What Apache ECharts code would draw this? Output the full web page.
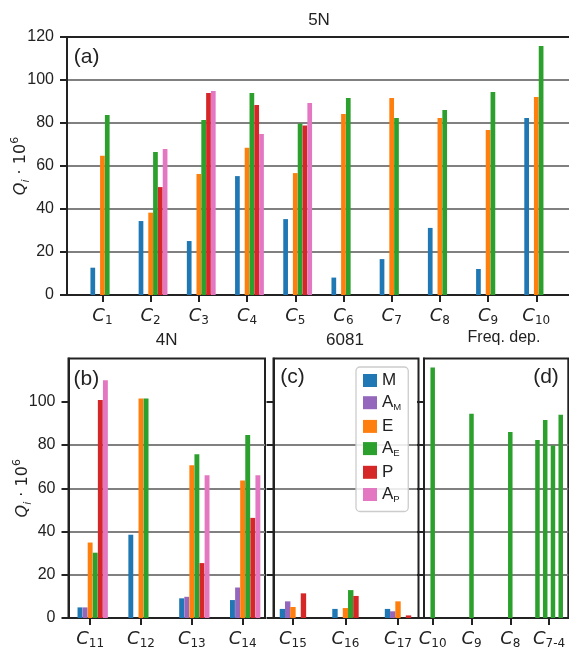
<!DOCTYPE html>
<html>
<head>
<meta charset="utf-8">
<script src="https://cdn.jsdelivr.net/npm/echarts@6.0.0/dist/echarts.min.js"></script>
<style>
  html, body { margin: 0; padding: 0; background: #fff; }
  #chart { width: 569px; height: 651px; }
</style>
</head>
<body>
<div id="chart"></div>
<script>
// panel (a) 5N, components C1..C10
const subs5N = ['1', '2', '3', '4', '5', '6', '7', '8', '9', '10']
const m5N  = [12.7, 34.4, 25.1, 55.3, 35.3, 8.1, 16.7, 31.2, 12.1, 82.3]
const e5N  = [64.8, 38.3, 56.3, 68.5, 56.7, 84.2, 91.6, 82.3, 76.7, 92.1]
const aE5N = [83.7, 66.5, 81.4, 94.0, 79.8, 91.6, 82.3, 86.0, 94.4, 115.8]
const p5N  = [null, 50.2, 94.0, 88.4, 78.8, null, null, null, null, null]
const aP5N = [null, 67.9, 94.9, 74.9, 89.3, null, null, null, null, null]

// panel (b) 4N, C11..C14
const subs4N = ['11', '12', '13', '14']
const m4N  = [4.9, 38.5, 9.1, 8.3]
const aM4N = [4.9, null, 9.8, 14.1]
const e4N  = [34.9, 101.5, 70.6, 63.6]
const aE4N = [30.2, 101.5, 75.7, 84.6]
const p4N  = [100.8, null, 25.4, 46.3]
const aP4N = [110.0, null, 66.0, 66.0]

// panel (c) 6081, C15..C17
const subs6081 = ['15', '16', '17']
const m6081  = [4.2, 4.2, 4.2]
const aM6081 = [7.7, null, 3.1]
const e6081  = [5.1, 4.6, 7.7]
const aE6081 = [null, 12.9, null]
const p6081  = [11.4, 10.2, 1.2]

// panel (d) frequency dependent, A_E only
const subsFreq = ['10', '9', '8', '7-4']
const freqGroup = [0, 1, 2, 3, 3, 3, 3]   // C10, C9, C8, C7, C6, C5, C4
const freqAE = [115.8, 94.4, 86.0, 82.3, 91.6, 79.8, 94.0]

const yTicks = [0, 20, 40, 60, 80, 100]

const colors = {
  M: '#1f77b4', A_M: '#9467bd', E: '#ff7f0e',
  A_E: '#2ca02c', P: '#d62728', A_P: '#e377c2'
}
const slots = ['M', 'A_M', 'E', 'A_E', 'P', 'A_P']
const ink = '#222'

function bars(name, vals, idx, width) {
  const off = (slots.indexOf(name) - 2) * 0.1
  const data = []
  vals.forEach((v, i) => {
    if (v != null) data.push([i + off, v])
  })
  return {
    type: 'bar', name, xAxisIndex: idx, yAxisIndex: idx,
    barWidth: width, barGap: '-100%',
    itemStyle: { color: colors[name] },
    data
  }
}

const cLabel = {
  c: { fontFamily: 'DejaVu Sans', fontStyle: 'italic', fontSize: 18, lineHeight: 22, color: ink },
  s: { fontFamily: 'DejaVu Sans', fontSize: 12, lineHeight: 12, verticalAlign: 'bottom', color: ink }
}

const axisLine = { show: true, onZero: false, lineStyle: { color: ink, width: 2 } }

function tick(vals) {
  const t = { show: true, inside: false, length: 7, lineStyle: { color: ink, width: 2 } }
  if (vals) t.customValues = vals
  return t
}

function xAxis(idx, min, max, subs) {
  const vals = subs.map((s, i) => i)
  return {
    type: 'value', gridIndex: idx, min, max,
    axisLine,
    splitLine: { show: false },
    axisTick: tick(vals),
    axisLabel: {
      customValues: vals, margin: 10, hideOverlap: false,
      formatter: v => '{c|C}{s|' + subs[Math.round(v)] + '}',
      rich: cLabel
    }
  }
}

const yName = {
  name: '{q|Q}{i|i}{t| · 10}{e|6}',
  nameLocation: 'middle', nameRotate: 90, nameGap: 35, nameMoveOverlap: false,
  nameTextStyle: {
    rich: {
      q: { fontFamily: 'DejaVu Sans', fontStyle: 'italic', fontSize: 16, lineHeight: 22, color: ink },
      i: { fontFamily: 'DejaVu Sans', fontStyle: 'italic', fontSize: 11, lineHeight: 11, verticalAlign: 'bottom', color: ink },
      t: { fontFamily: 'DejaVu Sans', fontSize: 16, lineHeight: 22, color: ink },
      e: { fontFamily: 'DejaVu Sans', fontSize: 11, lineHeight: 11, verticalAlign: 'top', color: ink }
    }
  }
}

const yLabel = { fontFamily: 'Liberation Sans', fontSize: 16, color: ink, margin: 13 }

function yAxis(idx, opts) {
  return Object.assign({
    type: 'value', gridIndex: idx, min: 0, max: 120, interval: 20,
    axisLine,
    axisTick: tick(),
    axisLabel: yLabel,
    splitLine: { showMinLine: false, showMaxLine: false, lineStyle: { color: '#808080', width: 2 } }
  }, opts)
}

const gridStyle = {
  show: true, borderColor: ink, borderWidth: 2, backgroundColor: 'transparent',
  containLabel: false, outerBoundsMode: 'none'
}

const legendNames = {
  M: '{a|M}', A_M: '{a|A}{s|M}', E: '{a|E}', A_E: '{a|A}{s|E}', P: '{a|P}', A_P: '{a|A}{s|P}'
}

const option = {
  animation: false,
  grid: [
    Object.assign({ left: 67, top: 37, width: 504, height: 258 }, gridStyle),
    Object.assign({ left: 68.5, top: 358.5, width: 196.5, height: 259.5 }, gridStyle),
    Object.assign({ left: 273.5, top: 358.5, width: 145, height: 259.5 }, gridStyle),
    Object.assign({ left: 424, top: 358.5, width: 144.3, height: 259.5 }, gridStyle)
  ],
  xAxis: [
    xAxis(0, -0.735, 9.72, subs5N),
    xAxis(1, -0.426, 3.44, subs4N),
    xAxis(2, -0.37, 2.39, subs6081),
    xAxis(3, -0.224, 3.495, subsFreq)
  ],
  yAxis: [
    yAxis(0, yName),
    yAxis(1, Object.assign({
      axisTick: tick(yTicks),
      axisLabel: Object.assign({ customValues: yTicks }, yLabel)
    }, yName)),
    yAxis(2, { axisTick: tick(yTicks), axisLabel: { show: false } }),
    yAxis(3, { axisTick: tick(yTicks), axisLabel: { show: false } })
  ],
  legend: {
    data: slots,
    orient: 'vertical',
    left: 356, top: 367,
    padding: [5, 7, 7, 7],
    itemGap: 5.2,
    itemWidth: 14, itemHeight: 13,
    icon: 'rect',
    backgroundColor: 'rgba(255,255,255,0.85)',
    borderColor: '#cccccc', borderWidth: 1.3, borderRadius: 4,
    formatter: n => legendNames[n],
    textStyle: {
      rich: {
        a: { fontFamily: 'Liberation Sans', fontSize: 17, lineHeight: 20, color: ink },
        s: { fontFamily: 'Liberation Sans', fontSize: 9.5, lineHeight: 10, verticalAlign: 'bottom', color: ink }
      }
    }
  },
  graphic: [
    { type: 'text', x: 319, y: 20, style: { text: '5N', font: '17px "Liberation Sans"', fill: ink, align: 'center', verticalAlign: 'middle' } },
    { type: 'text', x: 166.7, y: 340, style: { text: '4N', font: '17px "Liberation Sans"', fill: ink, align: 'center', verticalAlign: 'middle' } },
    { type: 'text', x: 345, y: 340.5, style: { text: '6081', font: '17px "Liberation Sans"', fill: ink, align: 'center', verticalAlign: 'middle' } },
    { type: 'text', x: 504, y: 338, style: { text: 'Freq. dep.', font: '16px "Liberation Sans"', fill: ink, align: 'center', verticalAlign: 'middle' } },
    { type: 'text', x: 86.7, y: 57, style: { text: '(a)', font: '21px "Liberation Sans"', fill: ink, align: 'center', verticalAlign: 'middle' } },
    { type: 'text', x: 86.3, y: 379, style: { text: '(b)', font: '21px "Liberation Sans"', fill: ink, align: 'center', verticalAlign: 'middle' } },
    { type: 'text', x: 292.5, y: 377.5, style: { text: '(c)', font: '21px "Liberation Sans"', fill: ink, align: 'center', verticalAlign: 'middle' } },
    { type: 'text', x: 546, y: 377, style: { text: '(d)', font: '21px "Liberation Sans"', fill: ink, align: 'center', verticalAlign: 'middle' } }
  ],
  series: [
    bars('M', m5N, 0, 4.7),
    bars('E', e5N, 0, 4.7),
    bars('A_E', aE5N, 0, 4.7),
    bars('P', p5N, 0, 4.7),
    bars('A_P', aP5N, 0, 4.7),

    bars('M', m4N, 1, 4.9),
    bars('A_M', aM4N, 1, 4.9),
    bars('E', e4N, 1, 4.9),
    bars('A_E', aE4N, 1, 4.9),
    bars('P', p4N, 1, 4.9),
    bars('A_P', aP4N, 1, 4.9),

    bars('M', m6081, 2, 5.4),
    bars('A_M', aM6081, 2, 5.4),
    bars('E', e6081, 2, 5.4),
    bars('A_E', aE6081, 2, 5.4),
    bars('P', p6081, 2, 5.4),
    // empty A_P series so the legend lists it
    { type: 'bar', name: 'A_P', xAxisIndex: 2, yAxisIndex: 2, barWidth: 5.4, barGap: '-100%', itemStyle: { color: colors.A_P }, data: [] },

    {
      type: 'bar', name: 'A_E_freq', xAxisIndex: 3, yAxisIndex: 3,
      barWidth: 4.5, barGap: '-100%',
      itemStyle: { color: colors.A_E },
      // the four bars of C7-4 sit side by side around their tick
      data: freqAE.map((v, i) => {
        const g = freqGroup[i]
        const k = freqGroup.slice(0, i).filter(x => x === g).length
        const n = freqGroup.filter(x => x === g).length
        return [g + (n > 1 ? (k - (n - 1) / 2) * 0.2 : 0), v]
      })
    }
  ]
}

const chart = echarts.init(document.getElementById('chart'))
chart.setOption(option)
</script>
</body>
</html>
